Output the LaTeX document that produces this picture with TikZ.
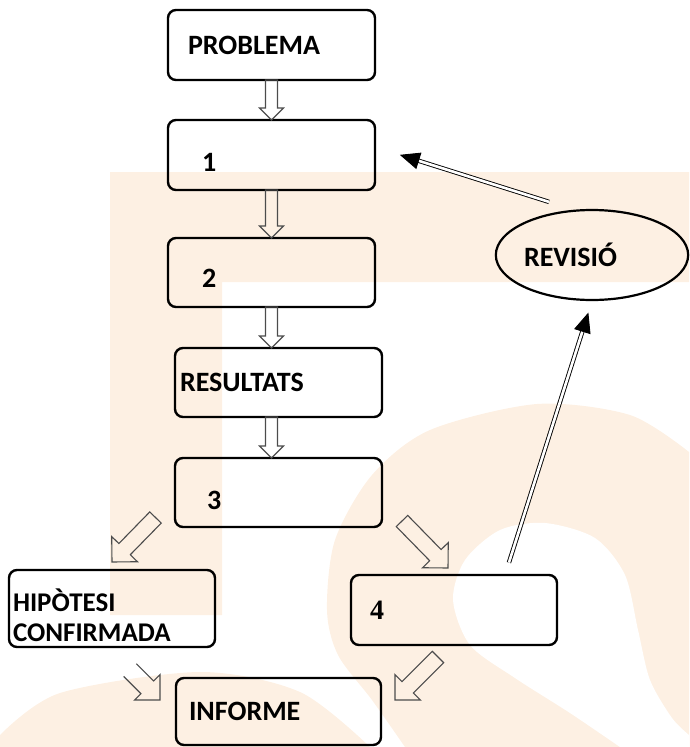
\documentclass[tikz,border=0pt]{standalone}
\usepackage{fontspec}
\setmainfont{Carlito}
\newfontfamily\serifnum{Liberation Serif}
\usetikzlibrary{arrows.meta,positioning,calc,shapes.geometric}
\definecolor{peach}{RGB}{253,240,227}

\newcommand{\hollowarrow}[5][-- cycle]{%
	\coordinate (hb) at ($(#3)!#5!(#2)$);
	\draw[blockarrow] ($(#2)!#4!90:(#3)$) -- ($(hb)!#4!-90:(#2)$) -- ($(hb)!#5!-90:(#2)$) -- (#3) -- ($(hb)!#5!90:(#2)$) -- ($(hb)!#4!90:(#2)$) -- ($(#2)!#4!-90:(#3)$) #1;
}

\begin{document}
\begin{tikzpicture}[x=1pt,y=-1pt,
		box/.style={rectangle,draw,line width=2.4pt,rounded corners=8pt,outer sep=0pt,
			minimum width=207pt,minimum height=69pt,inner ysep=3pt,align=left,
			font=\fontsize{28}{25}\selectfont\bfseries},
		blockarrow/.style={draw=black!70,line width=1.1pt,line join=miter},
		dblarrow/.style={draw,double,double distance=2.6pt,line width=0.9pt,
			-{Triangle[length=20pt,width=17pt]}}]
		
		\useasboundingbox (0,0) rectangle (689,747);
		\fill[peach] (110,172) -- (689,172) -- (689,282) -- (222,282) -- (222,615) -- (110,615) -- cycle;
		\fill[peach] plot[smooth] coordinates {(405,747) (372,700) (338,655) (327,610) (335,540) (372,475) (430,430) (537,404) (630,415) (689,452)} -- (689,747) -- cycle;
		\fill[white] plot[smooth] coordinates {(620,747) (570,713) (515,678) (470,645) (453,600) (465,560) (500,530) (545,523) (595,538) (625,575) (638,630) (650,680) (672,718) (689,735)} -- (689,747) -- cycle;
		\fill[peach] plot[smooth] coordinates {(0,735) (60,693) (200,672) (300,692) (370,747)} -- (0,747) -- cycle;
		
		\node[box,text width=167pt,inner xsep=20pt,minimum height=70pt] (top) at (271.5,45) {PROBLEMA};
		\node[box,text width=139pt,inner xsep=34pt,minimum height=70pt,text height=32pt,text depth=0pt,below=40pt of top] (one) {1};
		\node[box,text width=139pt,inner xsep=34pt,text height=29pt,text depth=0pt,below=48pt of one] (two) {2};
		\node[box,text width=197pt,inner xsep=5pt,below=41pt of two,xshift=7pt] (res) {RESULTATS};
		\node[box,text width=143pt,inner xsep=32pt,text height=33pt,text depth=0pt,below=41pt of res] (three) {3};
		\node[box,text width=198pt,inner xsep=4pt,minimum width=206pt,minimum height=77pt,text depth=17pt,
			font=\fontsize{27}{30}\selectfont\bfseries] (hip) at (112,608.5) {HIPÒTESI\\CONFIRMADA};
		\node[box,text width=168pt,inner xsep=19pt,minimum width=206pt,minimum height=70pt] (four) at (454,610) {\serifnum 4};
		\node[box,text width=179pt,inner xsep=13pt,minimum width=205pt,minimum height=67pt,below=151pt of three] (inf) {INFORME};
		\node[ellipse,draw,line width=2.2pt,minimum width=192pt,minimum height=90pt,inner sep=0pt,
			text width=136pt,align=left,font=\fontsize{28}{25}\selectfont\bfseries] (rev) at (592,255) {REVISIÓ};
		
		\coordinate (resin) at (res.north -| two.south);
		\coordinate (resout) at (res.south -| two.south);
		\coordinate (threein) at (three.north -| two.south);
		\hollowarrow{top.south}{one.north}{6pt}{12pt}
		\hollowarrow{one.south}{two.north}{6pt}{12pt}
		\hollowarrow{two.south}{resin}{6pt}{12pt}
		\hollowarrow{resout}{threein}{6pt}{12pt}
		
		\coordinate (threeleft) at ([shift={(-19.5pt,9.5pt)}]three.south west);
		\coordinate (hipin) at ([yshift=8pt]hip.north);
		\coordinate (threeright) at ([shift={(20pt,6pt)}]three.south east);
		\coordinate (fourin) at ([shift={(-6pt,7pt)}]four.north);
		\coordinate (hipout) at ([shift={(18pt,-23pt)}]hip.south);
		\coordinate (infleft) at ([shift={(-16pt,-22pt)}]inf.north west);
		\coordinate (fourout) at ([shift={(-16pt,-12pt)}]four.south);
		\coordinate (infright) at ([shift={(14pt,-22pt)}]inf.north east);
		\hollowarrow{threeleft}{hipin}{8pt}{18pt}
		\hollowarrow{threeright}{fourin}{8pt}{18pt}
		\hollowarrow[]{hipout}{infleft}{9pt}{18pt}
		\hollowarrow{fourout}{infright}{8pt}{18pt}
		
		\draw[dblarrow,shorten <=13pt,shorten >=12pt] ([xshift=51pt]four.north) -- (rev.south);
		\draw[dblarrow,shorten >=26pt] ([shift={(-43pt,7pt)}]rev.north) -- ([yshift=8pt]one.east);
		
\end{tikzpicture}
\end{document}
